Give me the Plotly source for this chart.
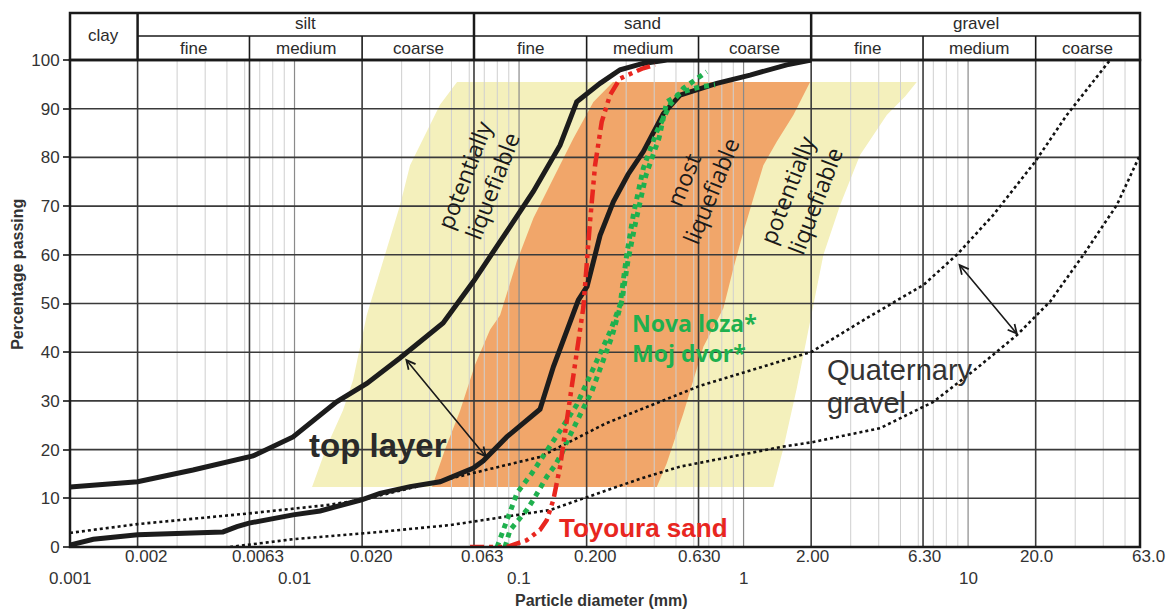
import numpy as np
import plotly.graph_objects as go

# ---------------- axis / classification data ----------------
X_MIN, X_MAX = 0.001, 58.3
fraction_names = ["clay", "silt", "sand", "gravel"]
fraction_bounds = [0.001, 0.002, 0.063, 2.0, X_MAX]
sub_names = ["fine", "medium", "coarse"] * 3
sub_bounds = [0.002, 0.0063, 0.020, 0.063, 0.200, 0.630, 2.00, 6.30, 20.0, X_MAX]

upper_tick_vals = [0.002, 0.0063, 0.020, 0.063, 0.200, 0.630, 2.00, 6.30, 20.0, 63.0]
upper_tick_text = ["0.002", "0.0063", "0.020", "0.063", "0.200", "0.630", "2.00", "6.30", "20.0", "63.0"]
lower_tick_vals = [0.001, 0.01, 0.1, 1, 10]
lower_tick_text = ["0.001", "0.01", "0.1", "1", "10"]
y_tick_vals = list(range(0, 101, 10))

# ---------------- liquefaction zones (diameter mm, % passing) ----------------
pot_left_d = [0.01197, 0.0139, 0.01644, 0.01823, 0.02097, 0.02323, 0.02574, 0.0295, 0.0327, 0.03748, 0.04446, 0.05295]
pot_left_p = [12.3, 20.6, 28.1, 34.3, 47.6, 54.5, 61.3, 70.2, 78.4, 83.9, 90.8, 95.5]
pot_right_d = [5.908, 5.24, 4.345, 3.303, 2.69, 2.268, 1.978, 1.726, 1.504, 1.357]
pot_right_p = [95.5, 92.5, 88.7, 80.5, 70.2, 60.0, 46.3, 32.6, 20.3, 12.3]

most_left_d = [0.04097, 0.04681, 0.05461, 0.06368, 0.07427, 0.0823, 0.09768, 0.1158, 0.1422, 0.1745, 0.2143, 0.2623]
most_left_p = [12.3, 20.0, 28.0, 37.4, 44.6, 47.6, 58.6, 67.5, 75.7, 83.9, 91.4, 95.5]
most_right_d = [1.978, 1.667, 1.405, 1.225, 1.106, 0.998, 0.9006, 0.813, 0.6622, 0.5393, 0.4549, 0.4106]
most_right_p = [95.5, 88.7, 83.2, 78.4, 71.6, 64.7, 57.2, 49.0, 41.1, 27.4, 17.2, 12.3]

# ---------------- grading curves ----------------
top_fine_d = [0.001, 0.002, 0.00353, 0.00653, 0.00985, 0.0154, 0.0210, 0.0295, 0.0459, 0.0626, 0.0823,
              0.1158, 0.1523, 0.1807, 0.2296, 0.2818, 0.3566, 0.456, 2.0]
top_fine_p = [12.3, 13.4, 15.8, 18.7, 22.6, 29.8, 33.6, 38.8, 46.0, 54.5, 62.7,
              73.0, 82.5, 91.4, 95.2, 98.0, 99.3, 100, 100]

top_coarse_d = [0.001, 0.00127, 0.002, 0.00353, 0.0048, 0.00554, 0.00627, 0.00985, 0.0130, 0.0199, 0.0240,
                0.0327, 0.0445, 0.0626, 0.0693, 0.0882, 0.124, 0.1422, 0.1631, 0.1836, 0.2009, 0.2296,
                0.263, 0.3058, 0.3578, 0.4394, 0.5213, 0.5975, 0.7598, 1.069, 1.557, 2.0]
top_coarse_p = [0.4, 1.6, 2.5, 2.8, 3.1, 4.2, 4.9, 6.6, 7.4, 9.7, 11.0,
                12.4, 13.4, 16.2, 17.7, 22.6, 28.3, 37.0, 44.6, 50.7, 53.5, 64.0,
                70.9, 76.5, 81.2, 89.0, 92.8, 93.6, 95.2, 96.9, 99.0, 100]

toyoura_d = [0.0605, 0.0882, 0.1082, 0.124, 0.1328, 0.1422, 0.1523, 0.1603, 0.1687, 0.1776, 0.1869,
             0.1935, 0.2071, 0.2181, 0.2335, 0.2543, 0.2818, 0.3566, 0.4035]
toyoura_p = [0, 0, 1.4, 3.5, 5.5, 9.7, 16.5, 23.3, 30.2, 37.0, 45.2,
             49.3, 66.8, 78.4, 87.3, 92.8, 96.2, 98.3, 99.0]

nova_loza_d = [0.0798, 0.0866, 0.0931, 0.098, 0.1139, 0.1328, 0.155, 0.1807, 0.2036, 0.2255, 0.2543,
               0.2818, 0.3017, 0.3229, 0.3578, 0.4106, 0.4707, 0.5393, 0.6189, 0.6857]
nova_loza_p = [0, 4.5, 8.6, 11.1, 15.1, 19.6, 24.4, 29.2, 34.3, 39.1, 44.2,
               49.7, 60.0, 68.2, 77.8, 85.3, 90.8, 94.2, 96.2, 97.6]

moj_dvor_d = [0.0866, 0.0912, 0.0993, 0.1082, 0.1158, 0.124, 0.1328, 0.1447, 0.155, 0.1631, 0.1745,
              0.1836, 0.1968, 0.2108, 0.2318, 0.2597, 0.2876, 0.3058, 0.332, 0.3679, 0.4204, 0.4549,
              0.5393, 0.6401, 0.7465]
moj_dvor_p = [0, 3.5, 5.5, 7.6, 9.7, 12.1, 14.4, 16.8, 19.2, 21.6, 24.4,
              26.8, 29.2, 31.9, 37.2, 43.3, 50.7, 58.9, 67.1, 76.4, 84.0, 91.4,
              93.5, 94.5, 94.9]

gravel_fine_d = [0.001, 0.002, 0.00627, 0.0139, 0.020, 0.0493, 0.124, 0.2439, 0.6401, 2.013, 3.538,
                 6.323, 8.907, 12.96, 19.88, 27.52, 42.9]
gravel_fine_p = [2.9, 4.7, 6.9, 8.6, 9.7, 14.1, 18.5, 25.4, 33.1, 40.1, 47.0,
                 53.8, 60.0, 68.2, 79.1, 88.7, 100]

gravel_coarse_d = [0.00516, 0.00985, 0.0240, 0.0493, 0.1374, 0.1935, 0.3458, 0.5213, 1.49, 2.013, 4.056,
                   7.003, 10.93, 16.48, 23.19, 32.63, 45.96, 58.3]
gravel_coarse_p = [0, 1.6, 3.1, 4.5, 7.6, 10.0, 14.0, 16.5, 20.6, 21.5, 24.4,
                   29.8, 36.7, 43.5, 50.4, 60.0, 70.2, 80.5]

# ---------------- helpers ----------------
LMIN, LMAX = np.log10(X_MIN), np.log10(X_MAX)


def xpaper(v):
    return (np.log10(v) - LMIN) / (LMAX - LMIN)


def vlines(vals):
    xs, ys = [], []
    for v in vals:
        xs += [v, v, None]
        ys += [0, 100, None]
    return xs, ys


def hlines(vals):
    xs, ys = [], []
    for v in vals:
        xs += [X_MIN, X_MAX, None]
        ys += [v, v, None]
    return xs, ys


FONT = "Liberation Sans, Arial, sans-serif"
TXT = "#2b2b2b"

fig = go.Figure()

# zones
fig.add_trace(go.Scatter(x=pot_left_d + pot_right_d, y=pot_left_p + pot_right_p, fill="toself",
                         fillcolor="#F4F0BC", line=dict(width=0), mode="lines", hoverinfo="skip"))
fig.add_trace(go.Scatter(x=most_left_d + most_right_d, y=most_left_p + most_right_p, fill="toself",
                         fillcolor="#F1A66A", line=dict(width=0), mode="lines", hoverinfo="skip"))

# grid
minor_vals = [m * 10.0 ** e for e in range(-3, 2) for m in range(3, 10) if m * 10.0 ** e < X_MAX]
decade_vals = [0.01, 0.1, 1, 10]
major_vals = sub_bounds[:-1]
for vals, col, w in [(minor_vals, "#cfcfcf", 1), (decade_vals, "#8a8a8a", 1.2), (major_vals, "#3a3a3a", 1.6)]:
    xs, ys = vlines(vals)
    fig.add_trace(go.Scatter(x=xs, y=ys, mode="lines", line=dict(color=col, width=w), hoverinfo="skip"))
xs, ys = hlines(y_tick_vals[1:-1])
fig.add_trace(go.Scatter(x=xs, y=ys, mode="lines", line=dict(color="#3a3a3a", width=1.6), hoverinfo="skip"))

# curves
fig.add_trace(go.Scatter(x=gravel_fine_d, y=gravel_fine_p, mode="lines",
                         line=dict(color="#111", width=2.6, dash="dot"), hoverinfo="skip"))
fig.add_trace(go.Scatter(x=gravel_coarse_d, y=gravel_coarse_p, mode="lines",
                         line=dict(color="#111", width=2.6, dash="dot"), hoverinfo="skip"))
fig.add_trace(go.Scatter(x=top_fine_d, y=top_fine_p, mode="lines",
                         line=dict(color="#1c1c1c", width=5), hoverinfo="skip"))
fig.add_trace(go.Scatter(x=top_coarse_d, y=top_coarse_p, mode="lines",
                         line=dict(color="#1c1c1c", width=5), hoverinfo="skip"))
fig.add_trace(go.Scatter(x=nova_loza_d, y=nova_loza_p, mode="lines",
                         line=dict(color="#1FB04E", width=5, dash="dot"), hoverinfo="skip"))
fig.add_trace(go.Scatter(x=moj_dvor_d, y=moj_dvor_p, mode="lines",
                         line=dict(color="#1FB04E", width=5, dash="dot"), hoverinfo="skip"))
fig.add_trace(go.Scatter(x=toyoura_d, y=toyoura_p, mode="lines",
                         line=dict(color="#E8261F", width=4.5, dash="14px,5px,4px,5px,4px,5px"),
                         hoverinfo="skip"))

# ---------------- header table ----------------
Y_TOP, Y_MID = 1.0965, 1.0493
shapes = [
    dict(type="rect", xref="paper", yref="paper", x0=0, x1=1, y0=0, y1=1, line=dict(color="#1a1a1a", width=2.5), layer="above"),
    dict(type="rect", xref="paper", yref="paper", x0=0, x1=1, y0=1, y1=Y_TOP, line=dict(color="#1a1a1a", width=2.5)),
    dict(type="line", xref="paper", yref="paper", x0=xpaper(0.002), x1=1, y0=Y_MID, y1=Y_MID, line=dict(color="#1a1a1a", width=1.6)),
]
for b in fraction_bounds[1:-1]:
    shapes.append(dict(type="line", xref="paper", yref="paper", x0=xpaper(b), x1=xpaper(b), y0=1, y1=Y_TOP,
                       line=dict(color="#1a1a1a", width=2.5)))
for b in sub_bounds[1:-1]:
    if b not in fraction_bounds:
        shapes.append(dict(type="line", xref="paper", yref="paper", x0=xpaper(b), x1=xpaper(b), y0=1, y1=Y_MID,
                           line=dict(color="#1a1a1a", width=1.6)))

ann = []


def ptext(x, y, text, size=17, color=TXT, family=FONT, **kw):
    d = dict(x=x, y=y, xref="paper", yref="paper", text=text, showarrow=False, xanchor="center",
             yanchor="middle", font=dict(family=family, size=size, color=color))
    d.update(kw)
    ann.append(d)


for i, name in enumerate(fraction_names):
    xc = (xpaper(fraction_bounds[i]) + xpaper(fraction_bounds[i + 1])) / 2
    ptext(xc, 1.0513 if name == "clay" else 1.0755, name)
for i, name in enumerate(sub_names):
    xc = (xpaper(sub_bounds[i]) + xpaper(sub_bounds[i + 1])) / 2
    ptext(xc, 1.0245, name)

# x tick labels (two rows)
for v, t in zip(upper_tick_vals, upper_tick_text):
    ptext(xpaper(v), -0.019, t, color="#333", xshift=9 if v < 0.5 else 1)
for v, t in zip(lower_tick_vals, lower_tick_text):
    ptext(xpaper(v), -0.064, t, color="#333")

# axis titles
ptext(0.5, -0.109, "<b>Particle diameter (mm)</b>", size=16, color="#333", xshift=-4)
ptext(-0.049, 0.56, "<b>Percentage passing</b>", size=16, color="#333", textangle=-90)

lx = np.log10
ZFONT = "Open Sans, Noto Sans, sans-serif"
ann += [
    dict(x=lx(0.0657), y=75.4, text="potentially<br>liquefiable", textangle=-69, showarrow=False,
         font=dict(family=ZFONT, size=23, color="#1a1a1a")),
    dict(x=lx(0.621), y=74.3, text="most<br>liquefiable", textangle=-68, showarrow=False,
         font=dict(family=ZFONT, size=23, color="#1a1a1a")),
    dict(x=lx(1.803), y=72.3, text="potentially<br>liquefiable", textangle=-69, showarrow=False,
         font=dict(family=ZFONT, size=23, color="#1a1a1a")),
    dict(x=lx(0.3122), y=46.0, text="<b>Nova loza*</b>", xanchor="left", showarrow=False,
         font=dict(family=ZFONT, size=23, color="#1FB04E")),
    dict(x=lx(0.3122), y=39.8, text="<b>Moj dvor*</b>", xanchor="left", showarrow=False,
         font=dict(family=ZFONT, size=23, color="#1FB04E")),
    dict(x=lx(0.02355), y=20.9, text="<b>top layer</b>", showarrow=False,
         font=dict(family=FONT, size=33, color="#2a2a2a")),
    dict(x=lx(0.1477), y=4.0, text="<b>Toyoura sand</b>", xanchor="left", showarrow=False,
         font=dict(family=FONT, size=26, color="#E8261F")),
    dict(x=lx(2.307), y=36.4, text="Quaternary", xanchor="left", showarrow=False,
         font=dict(family=FONT, size=29, color="#333")),
    dict(x=lx(2.307), y=29.6, text="gravel", xanchor="left", showarrow=False,
         font=dict(family=FONT, size=29, color="#333")),
    # arrows
    dict(x=lx(0.072), y=18.3, ax=lx(0.0307), ay=39.0, axref="x", ayref="y", text="", showarrow=True,
         arrowhead=5, startarrowhead=5, arrowside="end+start", arrowwidth=1.6, arrowsize=1.1,
         arrowcolor="#1a1a1a"),
    dict(x=lx(16.7), y=43.5, ax=lx(8.93), ay=58.5, axref="x", ayref="y", text="", showarrow=True,
         arrowhead=5, startarrowhead=5, arrowside="end+start", arrowwidth=1.6, arrowsize=1.1,
         arrowcolor="#1a1a1a"),
]
for a in ann:
    a.setdefault("xref", "x")
    a.setdefault("yref", "y")

fig.update_layout(
    width=1173, height=613,
    margin=dict(l=70, r=33, t=60, b=66),
    paper_bgcolor="white", plot_bgcolor="white",
    showlegend=False,
    shapes=shapes,
    annotations=ann,
    xaxis=dict(type="log", range=[LMIN, LMAX], showgrid=False, zeroline=False, showticklabels=False,
               ticks="", showline=False),
    yaxis=dict(range=[0, 100], tickvals=y_tick_vals, showgrid=False, zeroline=False, ticks="outside",
               ticklen=6, tickcolor="#444", tickwidth=1.5, showline=False,
               tickfont=dict(family="Liberation Sans Narrow, Liberation Sans, Arial", size=17, color="#333")),
)

fig.write_html("out.html")
